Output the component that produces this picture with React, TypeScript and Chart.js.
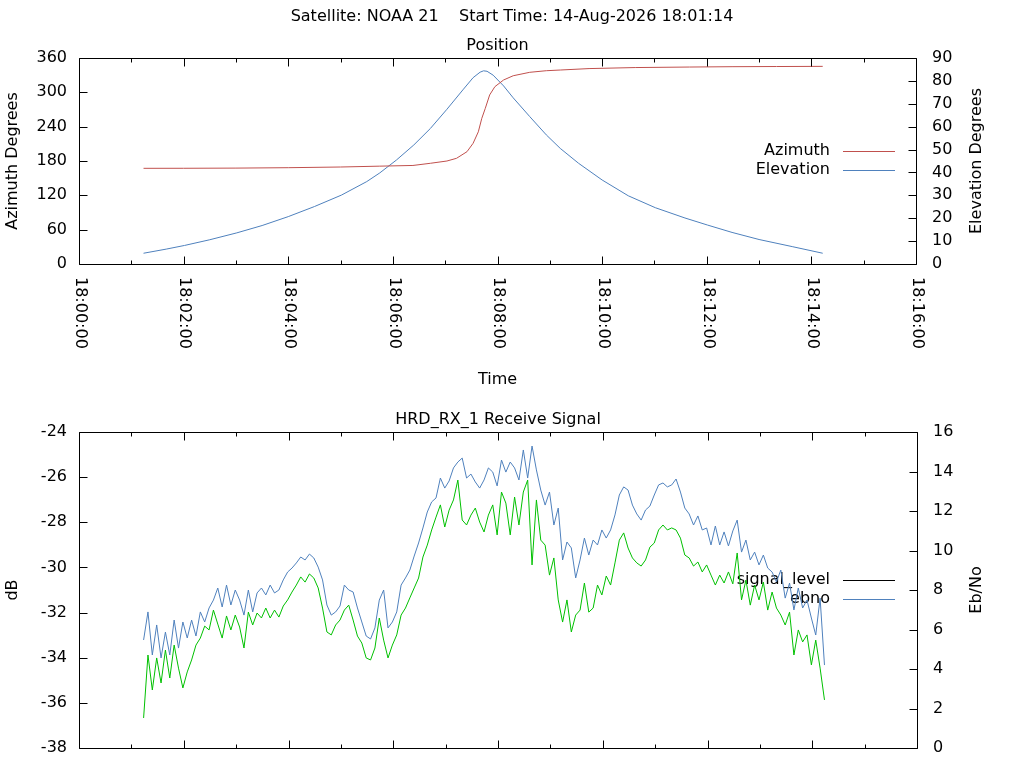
import { useEffect, useRef } from "react"
import { Chart, registerables } from "chart.js"

Chart.register(...registerables)

// ---- data ----
const mainTitle = "Satellite: NOAA 21    Start Time: 14-Aug-2026 18:01:14"
const positionTitle = "Position"
const signalTitle = "HRD_RX_1 Receive Signal"

// seconds after 18:00:00
const timeTickSeconds = [0, 120, 240, 360, 480, 600, 720, 840, 960]
const timeTickLabels = ["18:00:00", "18:02:00", "18:04:00", "18:06:00", "18:08:00", "18:10:00", "18:12:00", "18:14:00", "18:16:00"]

const azimuthTimes = [74, 120, 180, 240, 300, 345, 383, 403, 422, 433, 445, 452, 458, 462, 466, 471, 477, 487, 498, 517, 536, 552, 585, 638, 700, 749, 800, 853]
const azimuthDeg = [167.2, 167.3, 167.6, 168.3, 169.5, 171.0, 172.2, 176.0, 180.0, 184.7, 196.3, 210.9, 231.0, 254.6, 272.0, 295.4, 309.9, 321.6, 329.0, 335.0, 337.8, 339.0, 341.5, 343.3, 344.2, 344.8, 345.1, 345.4]

const elevationTimes = [74, 100, 121, 150, 181, 210, 240, 270, 301, 330, 345, 364, 384, 403, 422, 441, 452, 460, 464, 468, 475, 487, 498, 517, 536, 552, 573, 600, 630, 661, 695, 721, 749, 780, 818, 853]
const elevationDeg = [4.7, 6.5, 8.1, 10.6, 13.6, 16.8, 20.7, 25.1, 30.1, 36.0, 39.8, 45.4, 52.0, 59.2, 67.6, 76.4, 81.4, 83.8, 84.4, 84.2, 82.5, 77.8, 72.6, 64.4, 56.4, 50.5, 44.0, 36.7, 29.8, 24.6, 20.1, 17.0, 13.8, 10.7, 7.6, 4.7]

// receive signal, one sample every 5 s from 18:01:14
const signalStart = 74
const signalStep = 5

const signalLevel = [
  -36.67, -33.88, -35.43, -34.01, -35.12, -33.66, -34.9, -33.44, -34.46, -35.34,
  -34.63, -34.1, -33.44, -33.13, -32.6, -32.77, -31.89, -32.51, -33.13, -32.15,
  -32.77, -32.11, -32.64, -33.57, -31.98, -32.55, -32.02, -32.24, -31.8, -32.24,
  -31.89, -32.2, -31.71, -31.44, -31.09, -30.78, -30.42, -30.65, -30.29, -30.47,
  -30.91, -31.8, -32.86, -32.99, -32.55, -32.33, -31.89, -31.67, -32.33, -33.04,
  -33.35, -34.01, -34.1, -33.57, -32.24, -33.22, -34.01, -33.44, -32.99, -32.11,
  -31.8, -31.35, -30.91, -30.47, -29.54, -29.01, -28.34, -27.77, -27.23, -28.21,
  -27.46, -27.01, -26.13, -27.9, -28.12, -27.68, -27.37, -27.99, -28.43, -27.68,
  -27.23, -28.56, -26.66, -27.15, -28.56, -26.88, -28.12, -26.66, -26.13, -29.89,
  -27.01, -28.79, -29.01, -30.34, -29.58, -31.44, -32.42, -31.44, -32.86, -32.11,
  -31.89, -30.69, -31.98, -31.8, -30.78, -31.22, -30.38, -30.78, -29.8, -28.79,
  -28.47, -29.14, -29.58, -29.8, -29.94, -29.67, -29.1, -28.92, -28.34, -28.12,
  -28.34, -28.25, -28.34, -28.7, -29.45, -29.58, -29.94, -29.76, -30.2, -29.89,
  -30.34, -30.78, -30.34, -30.69, -30.2, -30.73, -29.36, -31.44, -30.56, -31.67,
  -30.78, -31.44, -30.65, -31.89, -31.09, -31.8, -32.11, -32.55, -31.98, -33.88,
  -32.77, -33.3, -32.99, -34.32, -33.22, -34.46, -35.87,
]

const ebno = [
  5.47, 6.89, 4.71, 6.23, 4.56, 5.87, 4.71, 6.48, 5.06, 6.38,
  5.57, 6.48, 5.67, 6.89, 6.38, 7.09, 7.49, 8.1, 7.14, 8.25,
  7.24, 8.0, 7.49, 6.73, 8.0, 6.89, 7.85, 8.1, 7.75, 8.25,
  7.85, 8.0, 8.51, 8.91, 9.11, 9.37, 9.67, 9.52, 9.82, 9.62,
  9.16, 8.51, 7.24, 6.73, 6.89, 7.19, 8.25, 8.0, 7.9, 7.09,
  6.38, 5.67, 5.52, 6.08, 7.49, 8.0, 6.08, 6.38, 6.89, 8.25,
  8.61, 9.01, 9.72, 10.38, 11.14, 11.95, 12.46, 12.66, 13.67, 13.16,
  13.52, 14.18, 14.48, 14.68, 13.67, 13.87, 13.47, 13.16, 13.57, 14.18,
  13.97, 13.27, 14.58, 13.97, 14.48, 14.18, 13.57, 15.09, 13.67, 15.29,
  14.08, 13.06, 12.3, 12.96, 11.29, 12.15, 9.52, 10.43, 10.13, 8.61,
  9.52, 10.63, 9.77, 10.53, 10.28, 11.04, 10.63, 11.04, 11.8, 12.81,
  13.22, 13.06, 12.3, 11.85, 11.54, 12.05, 12.25, 12.81, 13.32, 13.42,
  13.22, 13.32, 13.62, 12.96, 12.15, 11.85, 11.29, 11.75, 11.04, 11.14,
  10.28, 11.24, 10.28, 10.94, 10.23, 10.99, 11.54, 9.92, 10.53, 9.52,
  9.92, 9.27, 9.77, 9.11, 8.91, 8.41, 9.01, 7.59, 8.35, 6.99,
  8.1, 7.09, 7.49, 6.58, 5.72, 7.59, 4.2,
]

// ---- styling ----
const FONT_FAMILY = "'DejaVu Sans', sans-serif"
const FONT_SIZE = 16
const FONT = { family: FONT_FAMILY, size: FONT_SIZE, weight: "normal" as const }
const FONT_CSS = `${FONT_SIZE}px ${FONT_FAMILY}`
const RED = "#c0504d"
const BLUE = "#4f81bd"
const GREEN = "#00c000"

interface LegendEntry {
  text: string
  color: string
  y: number
}

interface FrameOptions {
  timeLabels: boolean
  rightTitle: string
  legend: LegendEntry[]
}

// gnuplot-like frame: box, inward ticks, rotated time labels, key under the data
function gnuplotFrame(opts: FrameOptions) {
  return {
    id: "gnuplotFrame",
    beforeDatasetsDraw(chart: Chart) {
      const ctx = chart.ctx
      ctx.save()
      ctx.font = FONT_CSS
      ctx.fillStyle = "#000"
      ctx.textAlign = "right"
      ctx.textBaseline = "middle"
      ctx.lineWidth = 1
      opts.legend.forEach((e) => {
        ctx.fillText(e.text, 830, e.y)
        ctx.strokeStyle = e.color
        ctx.beginPath()
        ctx.moveTo(843, Math.round(e.y) + 0.5)
        ctx.lineTo(895, Math.round(e.y) + 0.5)
        ctx.stroke()
      })
      ctx.restore()
    },
    afterDatasetsDraw(chart: Chart) {
      const ctx = chart.ctx
      const { left, right, top, bottom } = chart.chartArea
      const x = chart.scales.x
      const y = chart.scales.y
      const y2 = chart.scales.y2
      const L = Math.round(left) + 0.5
      const R = Math.round(right) + 0.5
      const T = Math.round(top) + 0.5
      const B = Math.round(bottom) + 0.5

      ctx.save()
      ctx.strokeStyle = "#000"
      ctx.lineWidth = 1
      ctx.beginPath()
      ctx.rect(L, T, R - L, B - T)

      for (let s = 0; s <= 960; s += 60) {
        const px = Math.round(x.getPixelForValue(s)) + 0.5
        const len = s % 120 === 0 ? 8 : 4
        ctx.moveTo(px, B)
        ctx.lineTo(px, B - len)
        ctx.moveTo(px, T)
        ctx.lineTo(px, T + len)
      }
      y.ticks.forEach((t) => {
        const py = Math.round(y.getPixelForValue(t.value)) + 0.5
        ctx.moveTo(L, py)
        ctx.lineTo(L + 8, py)
      })
      y2.ticks.forEach((t) => {
        const py = Math.round(y2.getPixelForValue(t.value)) + 0.5
        ctx.moveTo(R, py)
        ctx.lineTo(R - 8, py)
      })
      ctx.stroke()

      ctx.fillStyle = "#000"
      ctx.font = FONT_CSS
      if (opts.timeLabels) {
        ctx.textAlign = "left"
        ctx.textBaseline = "middle"
        timeTickSeconds.forEach((s, i) => {
          ctx.save()
          ctx.translate(x.getPixelForValue(s) + 1, bottom + 13)
          ctx.rotate(Math.PI / 2)
          ctx.fillText(timeTickLabels[i], 0, 0)
          ctx.restore()
        })
      }

      ctx.save()
      ctx.translate(977, (top + bottom) / 2)
      ctx.rotate(-Math.PI / 2)
      ctx.textAlign = "center"
      ctx.textBaseline = "middle"
      ctx.fillText(opts.rightTitle, 0, 0)
      ctx.restore()

      ctx.restore()
    },
  }
}

function PositionChart() {
  const chartRef = useRef<HTMLCanvasElement>(null)
  const chartInstance = useRef<Chart | null>(null)

  useEffect(() => {
    if (!chartRef.current) return
    if (chartInstance.current) chartInstance.current.destroy()
    const ctx = chartRef.current.getContext("2d")
    if (!ctx) return

    chartInstance.current = new Chart(ctx, {
      type: "line",
      data: {
        datasets: [
          {
            label: "Azimuth",
            data: azimuthTimes.map((t, i) => ({ x: t, y: azimuthDeg[i] })),
            borderColor: RED,
            borderWidth: 1,
            pointRadius: 0,
            yAxisID: "y",
          },
          {
            label: "Elevation",
            data: elevationTimes.map((t, i) => ({ x: t, y: elevationDeg[i] })),
            borderColor: BLUE,
            borderWidth: 1,
            pointRadius: 0,
            yAxisID: "y2",
          },
        ],
      },
      options: {
        animation: false,
        responsive: true,
        maintainAspectRatio: false,
        layout: { padding: 0 },
        plugins: {
          legend: { display: false },
          tooltip: { enabled: false },
          title: {
            display: true,
            text: mainTitle,
            color: "#000",
            font: FONT,
            padding: { top: 7, bottom: 10 },
          },
          subtitle: {
            display: true,
            text: positionTitle,
            color: "#000",
            font: FONT,
            fullSize: false,
            padding: { top: 0, bottom: 2.6 },
          },
        },
        scales: {
          x: {
            type: "linear",
            min: 0,
            max: 960,
            ticks: { display: false, stepSize: 120 },
            grid: { display: false, drawTicks: false },
            border: { display: false },
            title: { display: true, text: "Time", color: "#000", font: FONT, padding: { top: 0, bottom: 11 } },
            afterFit: (s) => {
              s.height = 136
            },
          },
          y: {
            position: "left",
            min: 0,
            max: 360,
            ticks: { stepSize: 60, padding: 12, color: "#000", font: FONT },
            grid: { display: false, drawTicks: false },
            border: { display: false },
            title: { display: true, text: "Azimuth Degrees", color: "#000", font: FONT, padding: { top: 3, bottom: 0 } },
            afterFit: (s) => {
              s.width = 79
            },
          },
          y2: {
            position: "right",
            min: 0,
            max: 90,
            ticks: { stepSize: 10, padding: 16, color: "#000", font: FONT },
            grid: { display: false, drawTicks: false },
            border: { display: false },
            afterFit: (s) => {
              s.width = 108
            },
          },
        },
      },
      plugins: [
        gnuplotFrame({
          timeLabels: true,
          rightTitle: "Elevation Degrees",
          legend: [
            { text: "Azimuth", color: RED, y: 151 },
            { text: "Elevation", color: BLUE, y: 170 },
          ],
        }),
      ],
    })

    return () => {
      if (chartInstance.current) {
        chartInstance.current.destroy()
        chartInstance.current = null
      }
    }
  }, [])

  return (
    <div style={{ position: "absolute", left: 0, top: 0, width: 1024, height: 400 }}>
      <canvas ref={chartRef} />
    </div>
  )
}

function SignalChart() {
  const chartRef = useRef<HTMLCanvasElement>(null)
  const chartInstance = useRef<Chart | null>(null)

  useEffect(() => {
    if (!chartRef.current) return
    if (chartInstance.current) chartInstance.current.destroy()
    const ctx = chartRef.current.getContext("2d")
    if (!ctx) return

    const times = signalLevel.map((_, i) => signalStart + i * signalStep)

    chartInstance.current = new Chart(ctx, {
      type: "line",
      data: {
        datasets: [
          {
            label: "signal_level",
            data: times.map((t, i) => ({ x: t, y: signalLevel[i] })),
            borderColor: GREEN,
            borderWidth: 1,
            pointRadius: 0,
            yAxisID: "y",
            order: 1,
          },
          {
            label: "ebno",
            data: times.map((t, i) => ({ x: t, y: ebno[i] })),
            borderColor: BLUE,
            borderWidth: 1,
            pointRadius: 0,
            yAxisID: "y2",
            order: 0,
          },
        ],
      },
      options: {
        animation: false,
        responsive: true,
        maintainAspectRatio: false,
        layout: { padding: 0 },
        plugins: {
          legend: { display: false },
          tooltip: { enabled: false },
          title: {
            display: true,
            text: signalTitle,
            color: "#000",
            font: FONT,
            fullSize: false,
            padding: { top: 10.4, bottom: 2.4 },
          },
        },
        scales: {
          x: {
            type: "linear",
            min: 0,
            max: 960,
            ticks: { display: false, stepSize: 120 },
            grid: { display: false, drawTicks: false },
            border: { display: false },
            afterFit: (s) => {
              s.height = 52
            },
          },
          y: {
            position: "left",
            min: -38,
            max: -24,
            ticks: { stepSize: 2, padding: 12, color: "#000", font: FONT },
            grid: { display: false, drawTicks: false },
            border: { display: false },
            title: { display: true, text: "dB", color: "#000", font: FONT, padding: { top: 3, bottom: 0 } },
            afterFit: (s) => {
              s.width = 79
            },
          },
          y2: {
            position: "right",
            min: 0,
            max: 16,
            ticks: { stepSize: 2, padding: 16, color: "#000", font: FONT },
            grid: { display: false, drawTicks: false },
            border: { display: false },
            afterFit: (s) => {
              s.width = 107
            },
          },
        },
      },
      plugins: [
        gnuplotFrame({
          timeLabels: false,
          rightTitle: "Eb/No",
          legend: [
            { text: "signal_level", color: "#000", y: 180 },
            { text: "ebno", color: BLUE, y: 199 },
          ],
        }),
      ],
    })

    return () => {
      if (chartInstance.current) {
        chartInstance.current.destroy()
        chartInstance.current = null
      }
    }
  }, [])

  return (
    <div style={{ position: "absolute", left: 0, top: 400, width: 1024, height: 400 }}>
      <canvas ref={chartRef} />
    </div>
  )
}

export default function App() {
  useEffect(() => {
    document.body.style.margin = "0"
  }, [])

  return (
    <div style={{ position: "relative", width: 1024, height: 768, overflow: "hidden", background: "#fff" }}>
      <PositionChart />
      <SignalChart />
    </div>
  )
}
